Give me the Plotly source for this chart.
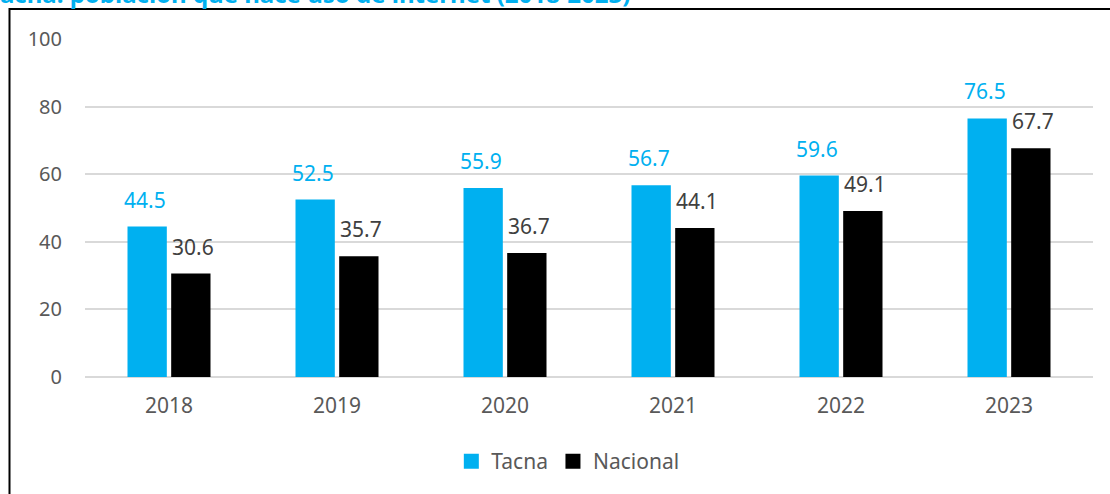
import plotly.graph_objects as go

years = ["2018", "2019", "2020", "2021", "2022", "2023"]
tacna = [44.5, 52.5, 55.9, 56.7, 59.6, 76.5]
nacional = [30.6, 35.7, 36.7, 44.1, 49.1, 67.7]
y_ticks = [0, 20, 40, 60, 80, 100]

BLUE = "#00B0F0"
BLACK = "#000000"
GRAY = "#595959"
FONT = "Noto Sans"

fig = go.Figure()
fig.add_trace(go.Bar(x=years, y=tacna, name="Tacna", marker_color=BLUE,
                     marker_line_width=0, showlegend=False))
fig.add_trace(go.Bar(x=years, y=nacional, name="Nacional", marker_color=BLACK,
                     marker_line_width=0, showlegend=False))
# legend entries with larger square swatches
fig.add_trace(go.Scatter(x=[None], y=[None], mode="markers", name="Tacna",
                         marker=dict(symbol="square", size=15, color=BLUE)))
fig.add_trace(go.Scatter(x=[None], y=[None], mode="markers", name="Nacional",
                         marker=dict(symbol="square", size=15, color=BLACK)))

annotations = []
for i, yr in enumerate(years):
    annotations.append(dict(x=i, y=tacna[i], text=f"{tacna[i]:.1f}", showarrow=False,
                            xref="x", yref="y", xanchor="center", yanchor="bottom",
                            xshift=-24, yshift=11,
                            font=dict(family=FONT, size=21, color=BLUE)))
    annotations.append(dict(x=i, y=nacional[i], text=f"{nacional[i]:.1f}", showarrow=False,
                            xref="x", yref="y", xanchor="center", yanchor="bottom",
                            xshift=24, yshift=11,
                            font=dict(family=FONT, size=21, color="#404040")))

annotations.append(dict(x=0.5427, y=1.0799, xref="paper", yref="paper",
                        text="Tacna: población que hace uso de internet (2018-2023)",
                        showarrow=False, xanchor="right", yanchor="bottom",
                        font=dict(family=FONT, size=24, color=BLUE, weight="bold")))

fig.update_layout(
    width=1110, height=494,
    margin=dict(l=85, r=17, t=39, b=117, autoexpand=False),
    paper_bgcolor="white", plot_bgcolor="white",
    barmode="group", bargap=0.48, bargroupgap=0.1,
    font=dict(family=FONT, size=21, color=GRAY),
    showlegend=True,
    legend=dict(orientation="h", x=0.479, xanchor="center", y=-0.25, yanchor="middle",
                font=dict(family=FONT, size=21, color=GRAY),
                itemclick=False, itemwidth=30, tracegroupgap=0),
    annotations=annotations,
    shapes=[dict(type="rect", xref="paper", yref="paper",
                 x0=-0.0749, y0=-0.6, x1=1.2, y1=1.0888,
                 line=dict(color="black", width=2), fillcolor="rgba(0,0,0,0)",
                 layer="above")],
    xaxis=dict(type="category", range=[-0.5, 5.5], showgrid=False, showline=False,
               ticks="", tickfont=dict(family=FONT, size=21, color=GRAY),
               ticklabelstandoff=14),
    yaxis=dict(range=[0, 100], tickvals=y_ticks, showgrid=True, gridcolor="#D9D9D9",
               gridwidth=2, zeroline=True, zerolinecolor="#D9D9D9", zerolinewidth=2,
               showline=False, ticks="", ticklabelstandoff=22,
               tickfont=dict(family=FONT, size=20, color=GRAY)),
)

fig.write_html("out.html", config={"displayModeBar": False},
               post_script="document.body.style.margin='0';")
